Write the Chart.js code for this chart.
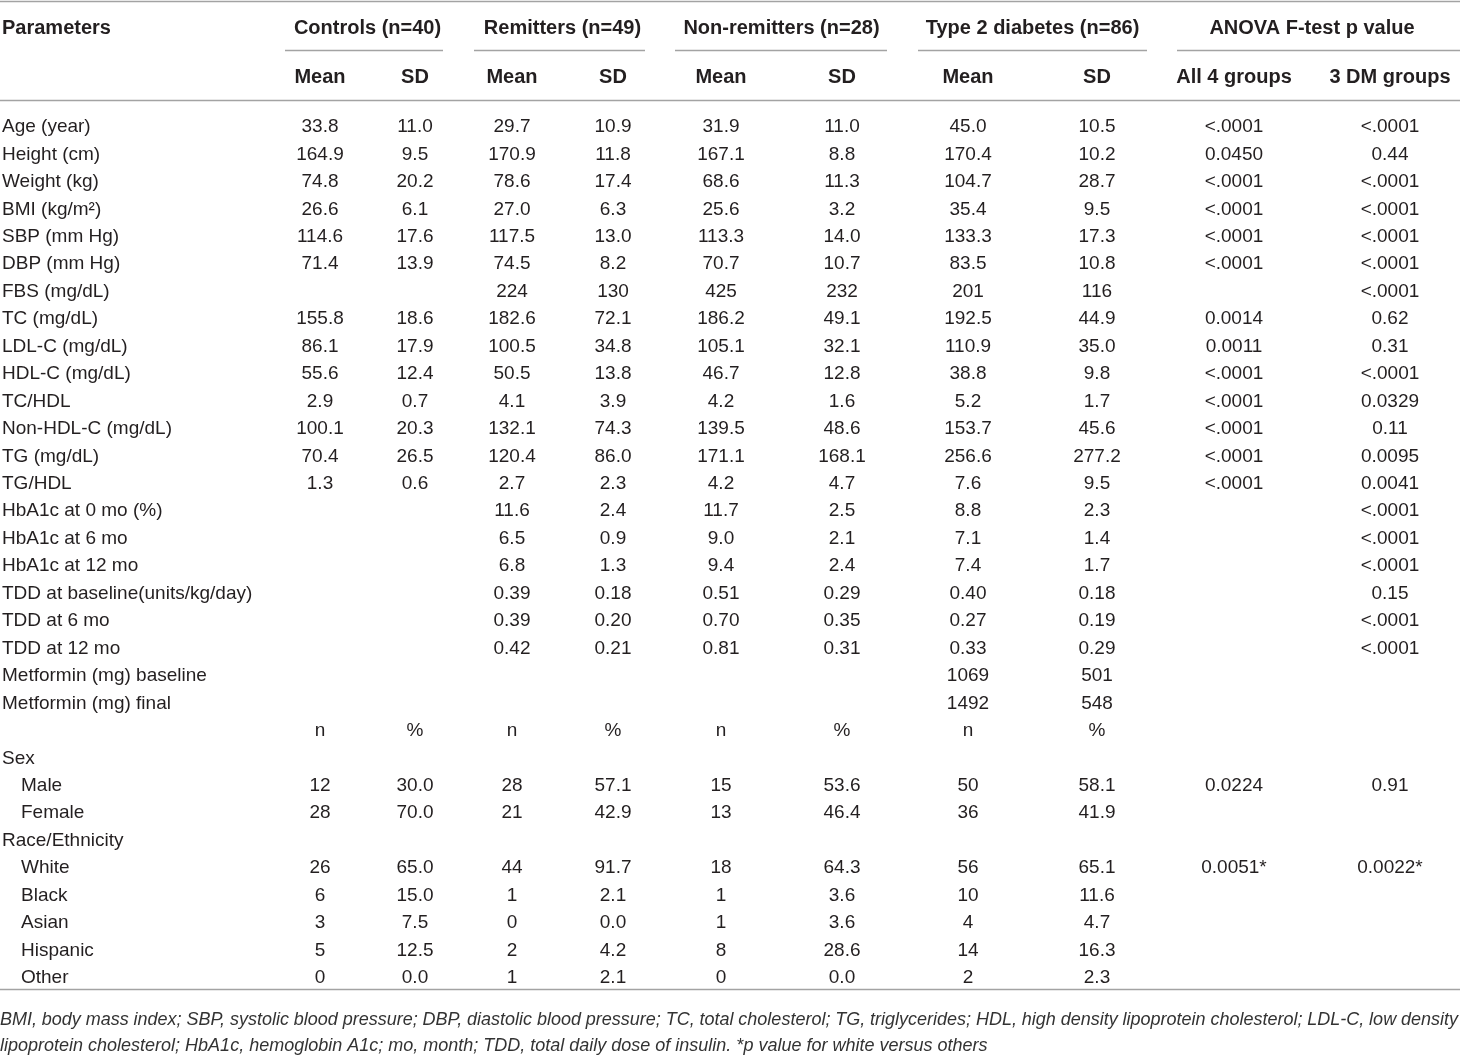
<!DOCTYPE html>
<html>
<head>
<meta charset="utf-8">
<title>Baseline characteristics</title>
<script src="https://cdn.jsdelivr.net/npm/chart.js@4.4.1/dist/chart.umd.min.js"></script>
<style>
  html, body { margin: 0; padding: 0; background: #fff; }
  #tableChart { display: block; }
</style>
</head>
<body>
<canvas id="tableChart" width="1460" height="1057"></canvas>
<script>
// ---- data ----
const groups = ['Controls (n=40)', 'Remitters (n=49)', 'Non-remitters (n=28)', 'Type 2 diabetes (n=86)', 'ANOVA F-test p value'];
const subHeads = ['Mean', 'SD', 'Mean', 'SD', 'Mean', 'SD', 'Mean', 'SD', 'All 4 groups', '3 DM groups'];
const firstHead = 'Parameters';

const rowLabels = [
  'Age (year)', 'Height (cm)', 'Weight (kg)', 'BMI (kg/m\u00b2)', 'SBP (mm Hg)', 'DBP (mm Hg)',
  'FBS (mg/dL)', 'TC (mg/dL)', 'LDL-C (mg/dL)', 'HDL-C (mg/dL)', 'TC/HDL', 'Non-HDL-C (mg/dL)',
  'TG (mg/dL)', 'TG/HDL', 'HbA1c at 0 mo (%)', 'HbA1c at 6 mo', 'HbA1c at 12 mo',
  'TDD at baseline(units/kg/day)', 'TDD at 6 mo', 'TDD at 12 mo',
  'Metformin (mg) baseline', 'Metformin (mg) final', '',
  'Sex', 'Male', 'Female', 'Race/Ethnicity', 'White', 'Black', 'Asian', 'Hispanic', 'Other'
];
const subRows = ['Male', 'Female', 'White', 'Black', 'Asian', 'Hispanic', 'Other'];

const ctrlMean = ['33.8','164.9','74.8','26.6','114.6','71.4','','155.8','86.1','55.6','2.9','100.1','70.4','1.3','','','','','','','','','n','','12','28','','26','6','3','5','0'];
const ctrlSD   = ['11.0','9.5','20.2','6.1','17.6','13.9','','18.6','17.9','12.4','0.7','20.3','26.5','0.6','','','','','','','','','%','','30.0','70.0','','65.0','15.0','7.5','12.5','0.0'];
const remMean  = ['29.7','170.9','78.6','27.0','117.5','74.5','224','182.6','100.5','50.5','4.1','132.1','120.4','2.7','11.6','6.5','6.8','0.39','0.39','0.42','','','n','','28','21','','44','1','0','2','1'];
const remSD    = ['10.9','11.8','17.4','6.3','13.0','8.2','130','72.1','34.8','13.8','3.9','74.3','86.0','2.3','2.4','0.9','1.3','0.18','0.20','0.21','','','%','','57.1','42.9','','91.7','2.1','0.0','4.2','2.1'];
const nonMean  = ['31.9','167.1','68.6','25.6','113.3','70.7','425','186.2','105.1','46.7','4.2','139.5','171.1','4.2','11.7','9.0','9.4','0.51','0.70','0.81','','','n','','15','13','','18','1','1','8','0'];
const nonSD    = ['11.0','8.8','11.3','3.2','14.0','10.7','232','49.1','32.1','12.8','1.6','48.6','168.1','4.7','2.5','2.1','2.4','0.29','0.35','0.31','','','%','','53.6','46.4','','64.3','3.6','3.6','28.6','0.0'];
const t2dMean  = ['45.0','170.4','104.7','35.4','133.3','83.5','201','192.5','110.9','38.8','5.2','153.7','256.6','7.6','8.8','7.1','7.4','0.40','0.27','0.33','1069','1492','n','','50','36','','56','10','4','14','2'];
const t2dSD    = ['10.5','10.2','28.7','9.5','17.3','10.8','116','44.9','35.0','9.8','1.7','45.6','277.2','9.5','2.3','1.4','1.7','0.18','0.19','0.29','501','548','%','','58.1','41.9','','65.1','11.6','4.7','16.3','2.3'];
const pAll     = ['<.0001','0.0450','<.0001','<.0001','<.0001','<.0001','','0.0014','0.0011','<.0001','<.0001','<.0001','<.0001','<.0001','','','','','','','','','','','0.0224','','','0.0051*','','','',''];
const pDM      = ['<.0001','0.44','<.0001','<.0001','<.0001','<.0001','<.0001','0.62','0.31','<.0001','0.0329','0.11','0.0095','0.0041','<.0001','<.0001','<.0001','0.15','<.0001','<.0001','','','','','0.91','','','0.0022*','','','',''];
const columns = [ctrlMean, ctrlSD, remMean, remSD, nonMean, nonSD, t2dMean, t2dSD, pAll, pDM];

const footnote = [
  'BMI, body mass index; SBP, systolic blood pressure; DBP, diastolic blood pressure; TC, total cholesterol; TG, triglycerides; HDL, high density lipoprotein cholesterol; LDL-C, low density',
  'lipoprotein cholesterol; HbA1c, hemoglobin A1c; mo, month; TDD, total daily dose of insulin. *p value for white versus others'
];

// ---- layout (x in page px units, y in row units) ----
const colX = [320, 415, 512, 613, 721, 842, 968, 1097, 1234, 1390];
const labelX = 2, subLabelX = 21;
const groupRules = [[285, 443], [474, 645], [675, 887], [918, 1147], [1177, 1460]];
const headY1 = -3.6, headY2 = -1.82, groupRuleY = -2.77;
const ruleTop = -4.57, ruleHead = -0.95, ruleBottom = 31.44;
const footY = [32.57, 33.52];

const FONT = '"Liberation Sans", Arial, Helvetica, sans-serif';
const INK = '#231f20';

function pts(xs, ys, texts) {
  const out = [];
  texts.forEach((t, i) => { if (t !== '') out.push({ x: xs(i), y: ys(i), t: t }); });
  return out;
}

const datasets = [];
// body cells
columns.forEach((col, c) => {
  datasets.push({ data: pts(() => colX[c], i => i, col), font: '19px ' + FONT, align: 'center' });
});
// row labels
datasets.push({
  data: pts(i => subRows.includes(rowLabels[i]) ? subLabelX : labelX, i => i, rowLabels),
  font: '19px ' + FONT, align: 'left'
});
// header rows
datasets.push({ data: [{ x: labelX, y: headY1, t: firstHead }], font: 'bold 20px ' + FONT, align: 'left' });
datasets.push({
  data: pts(g => (colX[g * 2] + colX[g * 2 + 1]) / 2, () => headY1, groups),
  font: 'bold 20px ' + FONT, align: 'center'
});
datasets.push({ data: pts(c => colX[c], () => headY2, subHeads), font: 'bold 20px ' + FONT, align: 'center' });

datasets.forEach(d => { d.pointRadius = 0; d.pointHoverRadius = 0; });

const tablePlugin = {
  id: 'tableText',
  beforeDatasetsDraw(chart) {
    const { ctx, scales: { x, y } } = chart;
    ctx.save();
    ctx.strokeStyle = '#a3a3a3';
    ctx.lineWidth = 1.5;
    const hline = (x0, x1, v) => {
      const py = Math.round(y.getPixelForValue(v)) + 0.5;
      ctx.beginPath();
      ctx.moveTo(x.getPixelForValue(x0), py);
      ctx.lineTo(x.getPixelForValue(x1), py);
      ctx.stroke();
    };
    hline(0, 1460, ruleTop);
    hline(0, 1460, ruleHead);
    hline(0, 1460, ruleBottom);
    groupRules.forEach(r => hline(r[0], r[1], groupRuleY));
    ctx.restore();
  },
  afterDatasetsDraw(chart) {
    const { ctx, chartArea, scales: { y } } = chart;
    ctx.save();
    ctx.fillStyle = INK;
    ctx.textBaseline = 'middle';
    chart.data.datasets.forEach((ds, di) => {
      const meta = chart.getDatasetMeta(di);
      ctx.font = ds.font;
      ctx.textAlign = ds.align;
      meta.data.forEach((el, i) => {
        ctx.fillText(ds.data[i].t, el.x, el.y + 1);
      });
    });
    // footnote, first line justified to the full width
    ctx.font = 'italic 18px ' + FONT;
    ctx.textAlign = 'left';
    ctx.fillStyle = '#333';
    footnote.forEach((line, li) => {
      const py = y.getPixelForValue(footY[li]);
      const words = line.split(' ');
      const wsum = words.reduce((s, w) => s + ctx.measureText(w).width, 0);
      const full = chartArea.right - chartArea.left - 2;
      const natural = ctx.measureText(line).width;
      if (li === 0 || natural > full) {
        const gap = (full - wsum) / (words.length - 1);
        let px = chartArea.left;
        words.forEach(w => { ctx.fillText(w, px, py); px += ctx.measureText(w).width + gap; });
      } else {
        ctx.fillText(line, chartArea.left, py);
      }
    });
    ctx.restore();
  }
};

new Chart(document.getElementById('tableChart'), {
  type: 'scatter',
  data: { datasets: datasets },
  options: {
    responsive: false,
    animation: false,
    events: [],
    layout: { padding: 0 },
    plugins: { legend: { display: false }, tooltip: { enabled: false } },
    scales: {
      x: { type: 'linear', min: 0, max: 1460, display: false },
      y: { type: 'linear', min: -4.59, max: 33.92, reverse: true, display: false }
    }
  },
  plugins: [tablePlugin]
});
</script>
</body>
</html>
